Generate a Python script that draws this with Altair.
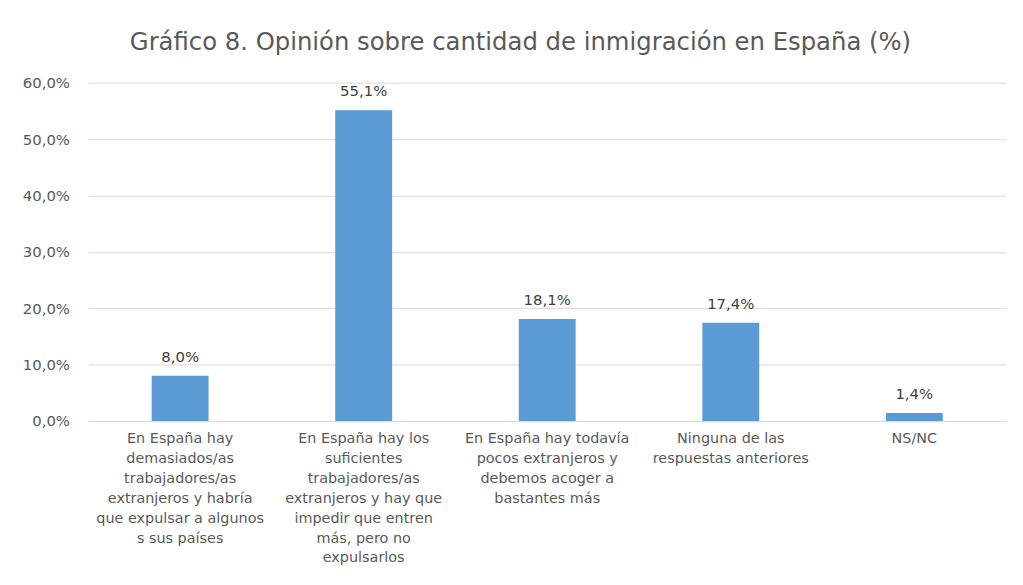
import altair as alt
import pandas as pd

categories = [
    "En España hay|demasiados/as|trabajadores/as|extranjeros y habría|que expulsar a algunos|s sus países",
    "En España hay los|suficientes|trabajadores/as|extranjeros y hay que|impedir que entren|más, pero no|expulsarlos",
    "En España hay todavía|pocos extranjeros y|debemos acoger a|bastantes más",
    "Ninguna de las|respuestas anteriores",
    "NS/NC",
]
values = [8.0, 55.1, 18.1, 17.4, 1.4]
y_ticks = [0, 10, 20, 30, 40, 50, 60]

df = pd.DataFrame({"cat": categories, "val": values})

FONT = "DejaVu Sans"
TXT = "#595959"

base = alt.Chart(df).encode(
    x=alt.X(
        "cat:N",
        sort=categories,
        title=None,
        scale=alt.Scale(paddingInner=0.69, paddingOuter=0.345),
        axis=alt.Axis(
            labelAngle=0,
            labelExpr="split(datum.value, '|')",
            labelFont=FONT,
            labelFontSize=14.5,
            labelColor=TXT,
            labelLineHeight=20,
            labelPadding=11,
            labelBaseline="top",
            ticks=False,
            domain=True,
            domainColor="#D9D9D9",
            labelLimit=300,
        ),
    ),
    y=alt.Y(
        "val:Q",
        title=None,
        scale=alt.Scale(domain=[0, 60], nice=False),
        axis=alt.Axis(
            values=y_ticks,
            labelExpr="replace(format(datum.value, '.1f'), '.', ',') + '%'",
            labelFont=FONT,
            labelFontSize=15,
            labelColor=TXT,
            labelPadding=19,
            ticks=False,
            domain=False,
            gridColor="#D9D9D9",
            gridWidth=1,
        ),
    ),
)

bars = base.mark_bar(color="#5B9BD5")
labels = base.transform_calculate(
    lab="replace(format(datum.val, '.1f'), '.', ',') + '%'"
).mark_text(
    baseline="bottom", dy=-11, font=FONT, fontSize=15, color="#404040"
).encode(text="lab:N")

chart = (
    (bars + labels)
    .properties(
        width=925,
        height=341,
        autosize=alt.AutoSizeParams(type="none"),
        padding={"left": 81, "top": 73, "right": 9, "bottom": 155},
        title=alt.TitleParams(
            "Gráfico 8. Opinión sobre cantidad de inmigración en España (%)",
            font=FONT,
            fontSize=24.5,
            fontWeight="normal",
            color=TXT,
            anchor="middle",
            dx=-27,
            offset=20,
        ),
    )
    .configure_view(stroke=None)
)

chart.save("out.html", embed_options={"renderer": "svg", "actions": False})
